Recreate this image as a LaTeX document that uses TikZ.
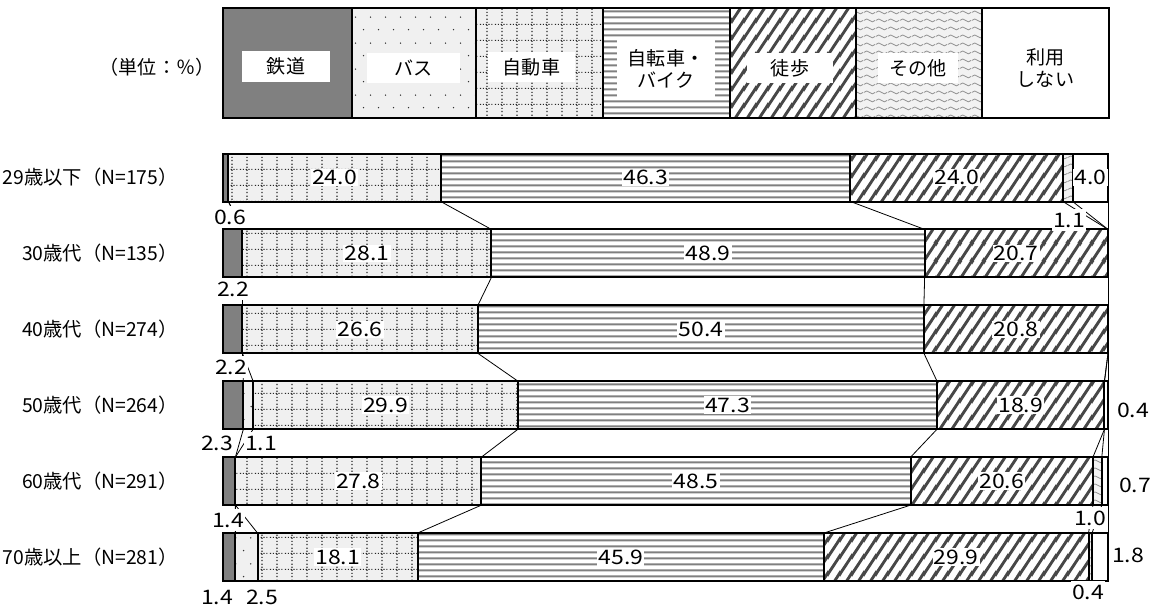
\documentclass[tikz,border=0pt]{standalone}
\usepackage{fontspec}
\setmainfont{Noto Sans CJK JP}
\newfontfamily\numfont{Noto Sans CJK JP}[FakeStretch=1.15]
\usetikzlibrary{patterns,calc}

\pgfdeclarepatternformonly{walkpat}{\pgfpointorigin}{\pgfpoint{9pt}{13pt}}{\pgfpoint{9pt}{13pt}}{%
  \pgfsetlinewidth{2.3pt}%
  \pgfpathmoveto{\pgfpoint{-4.5pt}{-6.5pt}}\pgfpathlineto{\pgfpoint{13.5pt}{19.5pt}}%
  \pgfpathmoveto{\pgfpoint{4.5pt}{-6.5pt}}\pgfpathlineto{\pgfpoint{13.5pt}{6.5pt}}%
  \pgfpathmoveto{\pgfpoint{-4.5pt}{6.5pt}}\pgfpathlineto{\pgfpoint{4.5pt}{19.5pt}}%
  \pgfusepath{stroke}}
\pgfdeclarepatternformonly{buspat}{\pgfpointorigin}{\pgfpoint{11.25pt}{19.5pt}}{\pgfpoint{11.25pt}{19.5pt}}{%
  \pgfpathcircle{\pgfpoint{2.8pt}{4.9pt}}{0.6pt}%
  \pgfpathcircle{\pgfpoint{8.4pt}{14.6pt}}{0.6pt}%
  \pgfusepath{fill}}
\pgfdeclarepatternformonly{carpat}{\pgfpointorigin}{\pgfpoint{11.25pt}{12pt}}{\pgfpoint{11.25pt}{12pt}}{%
  \pgfsetlinewidth{0.9pt}%
  \pgfsetdash{{0.9pt}{1.5pt}}{0pt}%
  \pgfpathmoveto{\pgfpoint{5.6pt}{0pt}}\pgfpathlineto{\pgfpoint{5.6pt}{12pt}}%
  \pgfusepath{stroke}%
  \pgfsetdash{{0.9pt}{1.35pt}}{0pt}%
  \pgfpathmoveto{\pgfpoint{0pt}{6pt}}\pgfpathlineto{\pgfpoint{11.25pt}{6pt}}%
  \pgfusepath{stroke}}
\pgfdeclarepatternformonly{bikepat}{\pgfpointorigin}{\pgfpoint{4.5pt}{4.5pt}}{\pgfpoint{4.5pt}{4.5pt}}{%
  \pgfsetlinewidth{1.7pt}%
  \pgfpathmoveto{\pgfpoint{-1pt}{2.25pt}}\pgfpathlineto{\pgfpoint{5.5pt}{2.25pt}}%
  \pgfusepath{stroke}}
\pgfdeclarepatternformonly{othpat}{\pgfpointorigin}{\pgfpoint{9pt}{6pt}}{\pgfpoint{9pt}{6pt}}{%
  \pgfsetlinewidth{0.6pt}%
  \pgfpathmoveto{\pgfpoint{0pt}{3pt}}%
  \pgfpathcurveto{\pgfpoint{1.5pt}{4.6pt}}{\pgfpoint{3pt}{4.6pt}}{\pgfpoint{4.5pt}{3pt}}%
  \pgfpathcurveto{\pgfpoint{6pt}{1.4pt}}{\pgfpoint{7.5pt}{1.4pt}}{\pgfpoint{9pt}{3pt}}%
  \pgfusepath{stroke}}

\newcommand\barrow[9]{%
  \pgfmathsetmacro\btot{#3+#4+#5+#6+#7+#8+#9}%
  \pgfmathsetmacro\byt{#2-24}%
  \pgfmathsetmacro\byb{#2+24}%
  \gdef\bcum{0}%
  \coordinate (r#1t0) at (223,\byt);
  \coordinate (r#1b0) at (223,\byb);
  \foreach \v/\k/\sty in {#3/1/railseg,#4/2/busseg,#5/3/carseg,#6/4/bikeseg,#7/5/walkseg,#8/6/othseg,#9/7/noneseg}{%
    \pgfmathsetmacro\bxa{223+885*(\bcum/\btot)}%
    \pgfmathsetmacro\bnew{\bcum+\v}%
    \xdef\bcum{\bnew}%
    \pgfmathsetmacro\bxb{223+885*(\bcum/\btot)}%
    \coordinate (r#1t\k) at (\bxb,\byt);
    \coordinate (r#1b\k) at (\bxb,\byb);
    \ifdim\v pt>0pt \path[\sty] (\bxa,\byt) rectangle (\bxb,\byb);\fi
  }%
}

\begin{document}
\begin{tikzpicture}[x=0.75pt,y=-0.75pt,
  seg/.style={draw=black,line width=1.5pt},
  railseg/.style={seg,fill=black!50},
  busseg/.style={seg,preaction={fill=black!6},pattern=buspat,pattern color=black!80},
  carseg/.style={seg,preaction={fill=black!6},pattern=carpat,pattern color=black!85},
  bikeseg/.style={seg,preaction={fill=white},pattern=bikepat,pattern color=black!50},
  walkseg/.style={seg,preaction={fill=white},pattern=walkpat,pattern color=black!72},
  othseg/.style={seg,preaction={fill=black!5},pattern=othpat,pattern color=black!45},
  noneseg/.style={seg,fill=white},
  serline/.style={draw=black,line width=0.6pt},
  lgbox/.style={fill=white,inner sep=0pt,align=center,font=\fontsize{14.3}{16.5}\selectfont},
  rowlbl/.style={anchor=east,inner sep=0pt,font=\fontsize{14.5}{16}\selectfont},
  val/.style={fill=white,inner sep=1pt,font=\numfont\fontsize{15}{17}\selectfont},
  outlbl/.style={fill=white,inner xsep=1pt,inner ysep=3pt,font=\numfont\fontsize{15}{17}\selectfont}]
\useasboundingbox (0,0) rectangle (1159,608);

% legend
\node[inner sep=0pt,font=\fontsize{14.3}{16}\selectfont] (unit) at (157,67) {（単位：％）};
\path[railseg] (223,8) rectangle (352,118);
\path[busseg] (352,8) rectangle (476,118);
\path[carseg] (476,8) rectangle (603,118);
\path[bikeseg] (603,8) rectangle (730,118);
\path[walkseg] (730,8) rectangle (856,118);
\path[othseg] (856,8) rectangle (982,118);
\path[noneseg] (982,8) rectangle (1109,118);
\node[lgbox,minimum width=66pt,minimum height=23pt] (lg1) at (286,66.5) {鉄道};
\node[lgbox,minimum width=70pt,minimum height=23pt] (lg2) at (413.5,68) {バス};
\node[lgbox,minimum width=65pt,minimum height=23pt] (lg3) at (531.5,67) {自動車};
\node[lgbox,minimum width=73pt,minimum height=47pt] (lg4) at (666,68.5) {自転車・\\バイク};
\node[lgbox,minimum width=65pt,minimum height=23pt] (lg5) at (790,68) {徒歩};
\node[lgbox,minimum width=60pt,minimum height=23pt] (lg6) at (918,68) {その他};
\node[lgbox,fill=none] (lg7) at (1045.5,68.5) {利用\\しない};

% bars
\barrow{1}{177.5}{0.6}{0}{24.0}{46.3}{24.0}{1.1}{4.0}
\barrow{2}{253.4}{2.2}{0}{28.1}{48.9}{20.7}{0}{0}
\barrow{3}{329.3}{2.2}{0}{26.6}{50.4}{20.8}{0}{0}
\barrow{4}{405.2}{2.3}{1.1}{29.9}{47.3}{18.9}{0}{0.4}
\barrow{5}{481.1}{1.4}{0}{27.8}{48.5}{20.6}{1.0}{0.7}
\barrow{6}{557}{1.4}{2.5}{18.1}{45.9}{29.9}{0.4}{1.8}

% series lines
\foreach \i/\j in {1/2,2/3,3/4,4/5,5/6}{%
  \foreach \k in {1,...,7}{\draw[serline] (r\i b\k) -- (r\j t\k);}}

% row labels
\node[rowlbl] (n1) at (178,177.5) {29歳以下（N=175）};
\node[rowlbl] (n2) at (178,253.4) {30歳代（N=135）};
\node[rowlbl] (n3) at (178,329.3) {40歳代（N=274）};
\node[rowlbl] (n4) at (178,405.2) {50歳代（N=264）};
\node[rowlbl] (n5) at (178,481.1) {60歳代（N=291）};
\node[rowlbl] (n6) at (178,557) {70歳以上（N=281）};

% values in bars
\node[val] (v13) at ($(r1t2)!0.5!(r1b3)$) {24.0};
\node[val] (v14) at ($(r1t3)!0.5!(r1b4)$) {46.3};
\node[val] (v15) at ($(r1t4)!0.5!(r1b5)$) {24.0};
\node[val] (v17) at ($(r1t6)!0.5!(r1b7)$) {4.0};
\node[val] (v23) at ($(r2t2)!0.5!(r2b3)$) {28.1};
\node[val] (v24) at ($(r2t3)!0.5!(r2b4)$) {48.9};
\node[val] (v25) at ($(r2t4)!0.5!(r2b5)$) {20.7};
\node[val] (v33) at ($(r3t2)!0.5!(r3b3)$) {26.6};
\node[val] (v34) at ($(r3t3)!0.5!(r3b4)$) {50.4};
\node[val] (v35) at ($(r3t4)!0.5!(r3b5)$) {20.8};
\node[val] (v43) at ($(r4t2)!0.5!(r4b3)$) {29.9};
\node[val] (v44) at ($(r4t3)!0.5!(r4b4)$) {47.3};
\node[val] (v45) at ($(r4t4)!0.5!(r4b5)$) {18.9};
\node[val] (v53) at ($(r5t2)!0.5!(r5b3)$) {27.8};
\node[val] (v54) at ($(r5t3)!0.5!(r5b4)$) {48.5};
\node[val] (v55) at ($(r5t4)!0.5!(r5b5)$) {20.6};
\node[val] (v63) at ($(r6t2)!0.5!(r6b3)$) {18.1};
\node[val] (v64) at ($(r6t3)!0.5!(r6b4)$) {45.9};
\node[val] (v65) at ($(r6t4)!0.5!(r6b5)$) {29.9};

% outside labels
\node[outlbl] (o11) at (230,217) {0.6};
\node[outlbl] (o16) at (1069,220) {1.1};
\node[outlbl] (o21) at (233,289) {2.2};
\node[outlbl] (o31) at (231,367) {2.2};
\node[outlbl] (o41) at (217,443) {2.3};
\node[outlbl] (o42) at (261,443) {1.1};
\node[outlbl] (o47) at (1133,410) {0.4};
\node[outlbl] (o51) at (228,520) {1.4};
\node[outlbl] (o56) at (1090,518) {1.0};
\node[outlbl] (o57) at (1135,485) {0.7};
\node[outlbl] (o61) at (217,597) {1.4};
\node[outlbl] (o62) at (262,597) {2.5};
\node[outlbl] (o66) at (1088,592) {0.4};
\node[outlbl] (o67) at (1128,555) {1.8};
\end{tikzpicture}
\end{document}
